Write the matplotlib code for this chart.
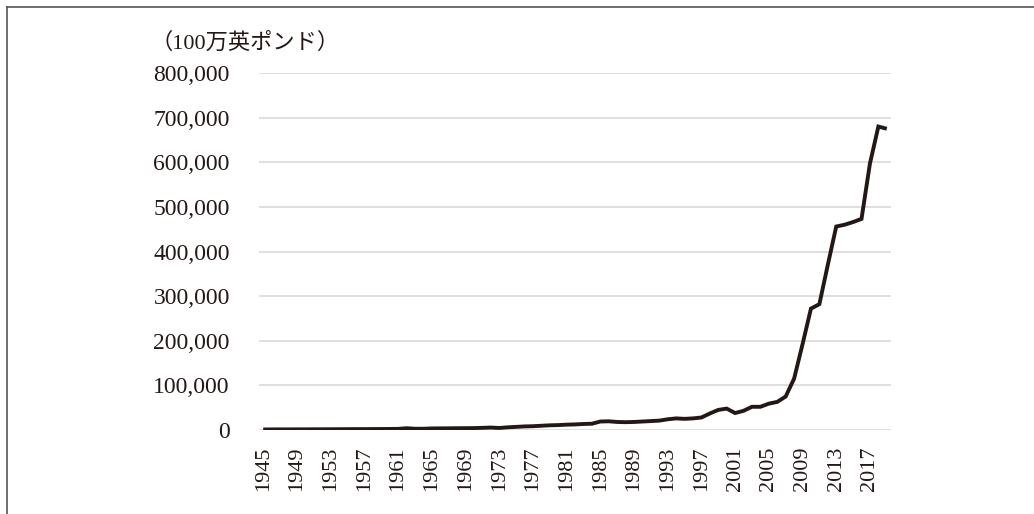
import matplotlib.pyplot as plt
from matplotlib.lines import Line2D
from matplotlib.ticker import FuncFormatter

# Values in millions of GBP
years = list(range(1945, 2020))
values = [
    1200, 1300, 1400, 1400, 1500, 1500, 1600, 1600, 1700, 1800,
    1900, 2000, 2000, 2100, 2200, 2300, 2500, 4000, 2800, 2800,
    3500, 3700, 3800, 4000, 4100, 4300, 4800, 5500, 4500, 6000,
    7000, 8000, 8500, 9500, 10500, 11000, 12000, 12500, 13500, 14000,
    19000, 19500, 18000, 17500, 18000, 19000, 20000, 21000, 24000, 26000,
    25000, 26000, 28000, 37000, 45000, 48000, 38000, 43000, 52000, 52000,
    59000, 63000, 75000, 115000, 192000, 272000, 282000, 370000, 456000, 460000,
    466000, 473000, 597000, 680000, 675000,
]
tick_years = list(range(1945, 2018, 4))
unit_label = "（100万英ポンド）"

fonts = ["Liberation Serif", "Noto Sans CJK JP", "DejaVu Sans"]
plt.rcParams["font.family"] = fonts

W, H = 1034, 514
fig = plt.figure(figsize=(W / 100, H / 100), dpi=100)
ax = fig.add_axes([259 / W, 1 - 430 / H, 632 / W, 357 / H])

ax.plot(years, values, color="#231815", linewidth=2.8, solid_joinstyle="miter",
        solid_capstyle="butt", zorder=3)

ax.set_xlim(1944.5, 2019.5)
ax.set_ylim(0, 800000)
ax.set_yticks(range(0, 800001, 100000))
ax.yaxis.set_major_formatter(FuncFormatter(lambda v, p: f"{int(v):,}"))
ax.set_xticks(tick_years)
ax.set_xticklabels([str(y) for y in tick_years], rotation=90)

ax.grid(axis="y", color="#d9d9d9", linewidth=1.2, zorder=1)
ax.set_axisbelow(True)
for s in ax.spines.values():
    s.set_visible(False)
ax.tick_params(axis="y", length=0, pad=21, labelsize=17, colors="#231815")
ax.tick_params(axis="x", length=0, pad=12, labelsize=16, colors="#231815")

fig.text(150 / W, 1 - 43 / H, unit_label, ha="left", va="center",
         fontsize=16, color="#231815")

# frame around the picture (only top and left edges visible)
fig.add_artist(Line2D([7 / W, 1], [1 - 7 / H, 1 - 7 / H], color="#555555",
                      linewidth=1.2, transform=fig.transFigure))
fig.add_artist(Line2D([7 / W, 7 / W], [0, 1 - 7 / H], color="#555555",
                      linewidth=1.2, transform=fig.transFigure))

fig.savefig("out.png", dpi=100)
